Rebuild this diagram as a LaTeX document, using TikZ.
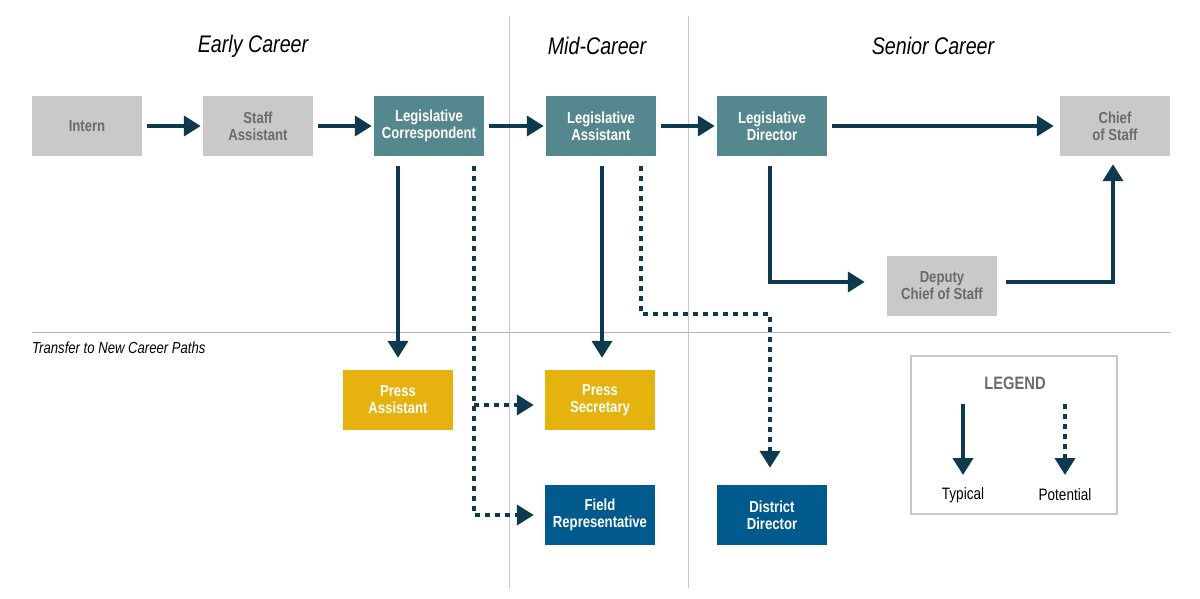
\documentclass[tikz,border=0pt]{standalone}
\usepackage{fontspec}
\setmainfont{Liberation Sans}[FakeStretch=0.82]
\usetikzlibrary{arrows.meta,calc}
\definecolor{grayfill}{HTML}{C9C9C9}
\definecolor{graytext}{HTML}{6B6B6B}
\definecolor{tealc}{HTML}{55878E}
\definecolor{goldc}{HTML}{E5B20E}
\definecolor{bluec}{HTML}{005A8D}
\definecolor{arrowc}{HTML}{0D3A4F}
\definecolor{rulec}{HTML}{C8C8C8}
\tikzset{
  box/.style={minimum width=110pt, minimum height=60pt, inner sep=0pt, align=center,
    font=\bfseries\fontsize{16}{17}\selectfont, text=white},
  graybox/.style={box, fill=grayfill, text=graytext},
  tealbox/.style={box, fill=tealc},
  goldbox/.style={box, fill=goldc},
  bluebox/.style={box, fill=bluec},
  arr/.style={line width=4pt, draw=arrowc, -{Triangle[length=17pt,width=20pt]}},
  dots/.style={arr, dash pattern=on 5pt off 5pt},
  header/.style={font=\itshape\fontsize{24}{26}\selectfont, text=black},
  rule/.style={draw=rulec, line width=1pt}
}
\begin{document}
\begin{tikzpicture}[x=1pt,y=-1pt]
\useasboundingbox (0,0) rectangle (1200,599);
% rules
\draw[rule] (509,16) -- (509,588);
\draw[rule] (688,16) -- (688,588);
\draw[draw=rulec!90!black, line width=1pt] (32,332) -- (1170,332);
% headers
\node[header] (h1) at (253,46) {Early Career};
\node[header] (h2) at (597,46) {Mid-Career};
\node[header] (h3) at (933,46) {Senior Career};
\node[anchor=west, inner sep=0pt, font=\itshape\fontsize{16}{17}\selectfont] (tr) at (32,348) {Transfer to New Career Paths};
% boxes
\node[graybox] (intern) at (87,126) {Intern};
\node[graybox] (sa) at (258,126) {Staff\\Assistant};
\node[tealbox] (lc) at (429,126) {Legislative\\Correspondent};
\node[tealbox] (la) at (601,126) {Legislative\\Assistant};
\node[tealbox] (ld) at (772,126) {Legislative\\Director};
\node[graybox] (cos) at (1115,126) {Chief\\of Staff};
\node[graybox] (dep) at (942,286) {Deputy\\Chief of Staff};
\node[goldbox] (pa) at (398,400) {Press\\Assistant};
\node[goldbox] (ps) at (600,400) {Press\\Secretary};
\node[bluebox] (fr) at (600,515) {Field\\Representative};
\node[bluebox] (dd) at (772,515) {District\\Director};
% horizontal arrows
\draw[arr] ([xshift=5pt]intern.east) -- ([xshift=-2pt]sa.west);
\draw[arr] ([xshift=5pt]sa.east) -- ([xshift=-2pt]lc.west);
\draw[arr] ([xshift=5pt]lc.east) -- ([xshift=-2pt]la.west);
\draw[arr] ([xshift=5pt]la.east) -- ([xshift=-2pt]ld.west);
\draw[arr] ([xshift=5pt]ld.east) -- ([xshift=-6pt]cos.west);
% vertical solid
\draw[arr] ([yshift=-10pt]lc.south -| pa.north) -- ([yshift=12pt]pa.north);
\draw[arr] ([xshift=1pt,yshift=-10pt]la.south) -- ([xshift=2pt,yshift=12pt]ps.north);
\draw[arr] ([xshift=-2pt,yshift=-10pt]ld.south) |- ([xshift=-22pt,yshift=4pt]dep.west);
\draw[arr] ([xshift=9pt,yshift=4pt]dep.east) -| ([xshift=-2pt,yshift=-8pt]cos.south);
% dotted
\coordinate (lcd) at ([xshift=45pt,yshift=-10pt]lc.south);
\draw[dots] (lcd) |- ([xshift=-11pt]fr.west);
\draw[dots] ([yshift=-5pt]lcd |- ps.west) -- ([xshift=-11pt,yshift=-5pt]ps.west);
\draw[dots] ([xshift=40pt,yshift=-10pt]la.south) -- ++(0,148) -| ([xshift=-2pt,yshift=17pt]dd.north);
% legend
\node[draw=rulec, line width=1.5pt, minimum width=206pt, minimum height=158pt, inner sep=0pt] (leg) at (1014,435) {};
\node[font=\bfseries\fontsize{18}{20}\selectfont, text=graytext] (legt) at (1015,383) {LEGEND};
\coordinate (t1) at (963,404);
\coordinate (t2) at (963,475);
\coordinate (p1) at (1065,404);
\coordinate (p2) at (1065,475);
\draw[arr] (t1) -- (t2);
\draw[dots] (p1) -- (p2);
\node[font=\fontsize{16.5}{18}\selectfont] (typ) at (963,495) {Typical};
\node[font=\fontsize{16.5}{18}\selectfont] (pot) at (1065,495) {Potential};
\end{tikzpicture}
\end{document}
